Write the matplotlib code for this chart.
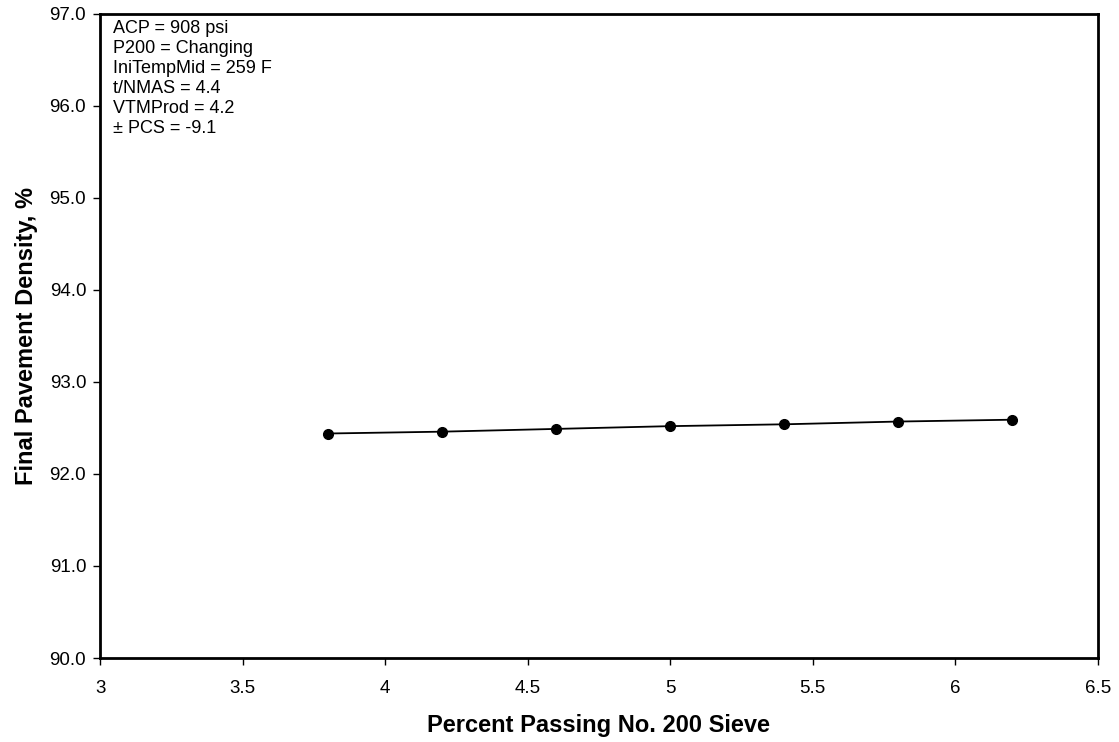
import matplotlib.pyplot as plt

plt.rcParams['font.family'] = ['Liberation Sans', 'DejaVu Sans']

# percent passing No. 200 vs final pavement density
p200 = [3.8, 4.2, 4.6, 5.0, 5.4, 5.8, 6.2]
density = [92.44, 92.46, 92.49, 92.52, 92.54, 92.57, 92.59]

inputs = ['ACP = 908 psi', 'P200 = Changing', 'IniTempMid = 259 F',
          't/NMAS = 4.4', 'VTMProd = 4.2', '\u00b1 PCS = -9.1']

fig = plt.figure(figsize=(11.19, 7.42), dpi=100)
ax = fig.add_axes([0.0894, 0.1132, 0.8916, 0.868])

ax.plot(p200, density, color='black', lw=1.3, marker='o', ms=7)

ax.set_xlim(3, 6.5)
ax.set_ylim(90, 97)
ax.set_xticks([3, 3.5, 4, 4.5, 5, 5.5, 6, 6.5])
ax.set_xticklabels(['3', '3.5', '4', '4.5', '5', '5.5', '6', '6.5'])
ax.set_yticks(range(90, 98))
ax.set_yticklabels(['%.1f' % v for v in range(90, 98)])
ax.tick_params(direction='out', length=5, width=1, labelsize=13.5)
ax.tick_params(axis='x', pad=11)
ax.tick_params(axis='y', pad=5)

for s in ax.spines.values():
    s.set_linewidth(2)

ax.set_xlabel('Percent Passing No. 200 Sieve', fontsize=17, fontweight='bold', labelpad=12)
ax.set_ylabel('Final Pavement Density, %', fontsize=17, fontweight='bold', labelpad=8)

ax.text(0.013, 0.99, '\n'.join(inputs), transform=ax.transAxes,
        va='top', ha='left', fontsize=13, linespacing=1.22)

fig.savefig('out.png', dpi=100)
